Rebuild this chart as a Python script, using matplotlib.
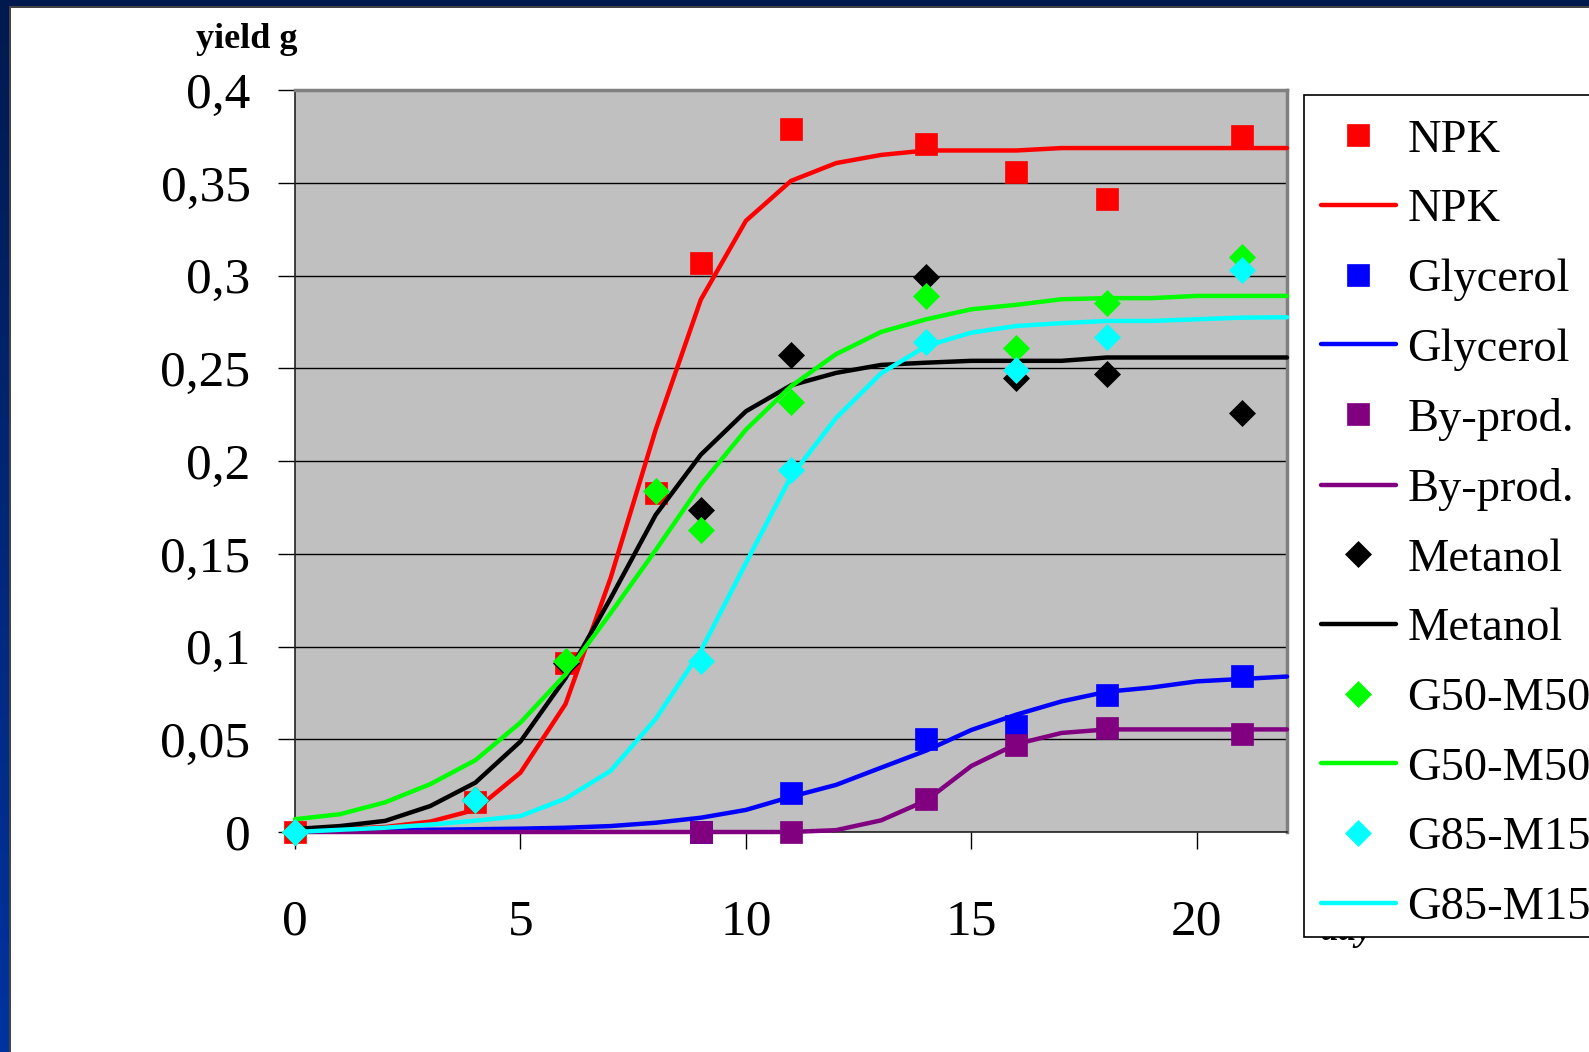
import matplotlib
matplotlib.use("Agg")
import matplotlib.pyplot as plt
import numpy as np
from matplotlib.patches import Rectangle
from matplotlib.colors import LinearSegmentedColormap

plt.rcParams['font.family'] = ['Liberation Serif', 'DejaVu Serif']

# ---------------- data ----------------
series_names = ["NPK", "Glycerol", "By-prod.", "Metanol", "G50-M50", "G85-M15"]
series_colors = ["#ff0000", "#0000ff", "#800080", "#000000", "#00ff00", "#00ffff"]
series_markers = ["s", "s", "s", "D", "D", "D"]

# measured points
npk_days = [0, 4, 6, 8, 9, 11, 14, 16, 18, 21]
npk_vals = [0.0, 0.016, 0.091, 0.183, 0.307, 0.379, 0.371, 0.356, 0.341, 0.375]
gly_days = [9, 11, 14, 16, 18, 21]
gly_vals = [0.0, 0.021, 0.050, 0.057, 0.074, 0.084]
byp_days = [9, 11, 14, 16, 18, 21]
byp_vals = [0.0, 0.0, 0.018, 0.047, 0.056, 0.053]
met_days = [0, 4, 6, 9, 11, 14, 16, 18, 21]
met_vals = [0.0, 0.017, 0.091, 0.1735, 0.257, 0.299, 0.2445, 0.247, 0.226]
g50_days = [0, 4, 6, 8, 9, 11, 14, 16, 18, 21]
g50_vals = [0.0, 0.017, 0.092, 0.184, 0.163, 0.232, 0.289, 0.261, 0.285, 0.310]
g85_days = [0, 4, 9, 11, 14, 16, 18, 21]
g85_vals = [0.0, 0.0175, 0.092, 0.195, 0.264, 0.249, 0.267, 0.303]

# fitted curves (days 0..22)
fit_days = list(range(23))
npk_fit = [0.0005, 0.0015, 0.0027, 0.0056, 0.012, 0.032, 0.069, 0.137, 0.217, 0.287,
           0.3295, 0.351, 0.3606, 0.365, 0.3674, 0.3674, 0.3674, 0.3687, 0.3687, 0.3687,
           0.3687, 0.3687, 0.3687]
gly_fit = [0.0, 0.0005, 0.001, 0.0012, 0.0015, 0.0018, 0.0023, 0.0032, 0.005, 0.0077,
           0.0119, 0.019, 0.0254, 0.0347, 0.0439, 0.055, 0.0633, 0.0704, 0.0756, 0.0779,
           0.0812, 0.0825, 0.0838]
byp_fit = [0.0, 0.0, 0.0, 0.0, 0.0, 0.0, 0.0, 0.0, 0.0, 0.0,
           0.0, 0.0, 0.001, 0.0063, 0.017, 0.0356, 0.0474, 0.0534, 0.0553, 0.0553,
           0.0553, 0.0553, 0.0553]
met_fit = [0.0016, 0.0032, 0.006, 0.014, 0.0266, 0.0488, 0.083, 0.126, 0.171, 0.2034,
           0.2268, 0.2408, 0.2475, 0.2518, 0.253, 0.254, 0.254, 0.254, 0.2558, 0.2558,
           0.2558, 0.2558, 0.2558]
g50_fit = [0.0069, 0.0096, 0.016, 0.0258, 0.0387, 0.059, 0.085, 0.118, 0.152, 0.1872,
           0.2169, 0.2403, 0.2576, 0.2696, 0.2764, 0.2818, 0.2842, 0.2872, 0.2878, 0.2878,
           0.289, 0.289, 0.289]
g85_fit = [0.0, 0.0012, 0.0023, 0.004, 0.0061, 0.0086, 0.018, 0.033, 0.061, 0.0977,
           0.145, 0.1917, 0.2232, 0.2473, 0.262, 0.2692, 0.2728, 0.2743, 0.2755, 0.2755,
           0.2764, 0.2773, 0.2775]

y_ticks = [0, 0.05, 0.1, 0.15, 0.2, 0.25, 0.3, 0.35, 0.4]
y_tick_labels = ["0", "0,05", "0,1", "0,15", "0,2", "0,25", "0,3", "0,35", "0,4"]
x_ticks = [0, 5, 10, 15, 20]
x_tick_labels = ["0", "5", "10", "15", "20"]

point_days = [npk_days, gly_days, byp_days, met_days, g50_days, g85_days]
point_vals = [npk_vals, gly_vals, byp_vals, met_vals, g50_vals, g85_vals]
fit_vals = [npk_fit, gly_fit, byp_fit, met_fit, g50_fit, g85_fit]

# ---------------- figure ----------------
W, H = 1589, 1052
fig = plt.figure(figsize=(W / 100, H / 100), dpi=100)
fig.patch.set_facecolor("white")

# slide background bands
cmap = LinearSegmentedColormap.from_list("slide", ["#001a4f", "#0033a0"])
bax = fig.add_axes([0, 0, 9 / W, 1])
bax.imshow(np.linspace(0, 1, 200).reshape(-1, 1), aspect="auto", cmap=cmap)
bax.axis("off")
fig.add_artist(Rectangle((0, 1 - 6 / H), 1, 6 / H, transform=fig.transFigure,
                         facecolor="#001a4f", edgecolor="none", zorder=1))
fig.add_artist(Rectangle((9 / W, 0), 1.5 / W, 1 - 6 / H, transform=fig.transFigure,
                         facecolor="#444444", edgecolor="none", zorder=1))
fig.add_artist(Rectangle((9 / W, 1 - 7.5 / H), 1, 1.5 / H, transform=fig.transFigure,
                         facecolor="#444444", edgecolor="none", zorder=1))

ax = fig.add_axes([295 / W, 1 - 832 / H, (1287 - 295) / W, (832 - 90) / H])
ax.set_facecolor("#c0c0c0")
ax.set_xlim(0, 22)
ax.set_ylim(0, 0.4)
ax.set_axisbelow(True)
ax.yaxis.grid(True, color="black", linewidth=1.0)
ax.set_yticks(y_ticks)
ax.set_yticklabels(y_tick_labels)
ax.set_xticks(x_ticks)
ax.set_xticklabels(x_tick_labels)
ax.tick_params(axis="y", length=12, width=1, pad=20, labelsize=37, direction="out")
ax.tick_params(axis="x", length=12, width=1, pad=36, labelsize=37, direction="out")
for s in ["left", "bottom"]:
    ax.spines[s].set_color("#222222")
    ax.spines[s].set_linewidth(1.2)
for s in ["top", "right"]:
    ax.spines[s].set_color("#808080")
    ax.spines[s].set_linewidth(2.5)

handles = []
labels = []
for i, name in enumerate(series_names):
    c = series_colors[i]
    m = series_markers[i]
    ms = 16.5 if m == "s" else 13.5
    pts, = ax.plot(point_days[i], point_vals[i], linestyle="none", marker=m,
                   markersize=ms, markerfacecolor=c, markeredgecolor=c,
                   markeredgewidth=0.5, clip_on=False, zorder=3 + 2 * i)
    ln, = ax.plot(fit_days, fit_vals[i], color=c, linewidth=3.2,
                  solid_capstyle="round", clip_on=False, zorder=3 + 2 * i + 1)
    handles += [pts, ln]
    labels += [name, name]

fig.text(247 / W, 1 - 48 / H, "yield g", ha="center", va="baseline",
         fontsize=26, fontweight="bold")
fig.text(1321 / W, 1 - 940 / H, "day", ha="left", va="baseline",
         fontsize=26, fontweight="bold", style="italic", zorder=2)

# legend frame (white box, runs off the right edge like the reference)
fig.add_artist(Rectangle((1304 / W, 1 - 937 / H), (W + 20 - 1304) / W, (937 - 95) / H,
                         transform=fig.transFigure, facecolor="white",
                         edgecolor="black", linewidth=1.2, zorder=9, clip_on=False))

leg = fig.legend(handles, labels, loc="upper left",
                 bbox_to_anchor=(1320.5 / W, 1 - 119 / H), bbox_transform=fig.transFigure,
                 frameon=False, fontsize=33.5, borderpad=0, labelspacing=0.583,
                 handlelength=1.633, handletextpad=0.234, borderaxespad=0, numpoints=1)
leg.set_zorder(10)

fig.savefig("out.png", dpi=100)
